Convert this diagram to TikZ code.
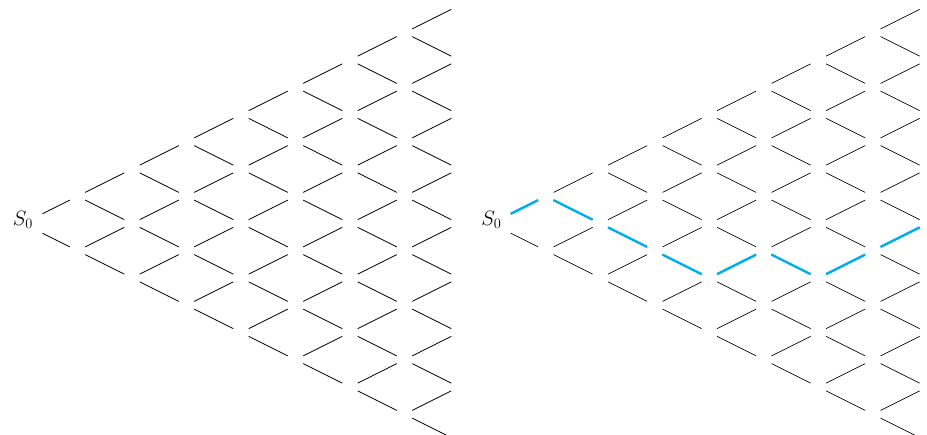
\documentclass[tikz,border=0pt]{standalone}
\definecolor{pathblue}{RGB}{0,174,239}
\usepackage{amsmath,amssymb}
\usepackage{tikz}
\usepackage{xcolor}
\usetikzlibrary{shapes,arrows,positioning,calc}

\tikzset{
    latt/.style={circle, inner sep=0pt, minimum size=16.8pt},
    rootnode/.style={circle, inner sep=0pt, minimum size=43pt,
        text height=14pt, text depth=9.6pt, font=\huge},
    branch/.style={draw=black, line width=0.7pt},
    chosen/.style={draw=pathblue, line width=2.4pt}
}

\begin{document}
\begin{tikzpicture}[x=54.5pt, y=27.25pt]
    \clip (-0.422,-7.761) rectangle (16.587,8.202);
    % lattice points of both trees
    \foreach \t/\s in {l/0, r/8.593} {
        \node[rootnode] (\t-0-0) at (\s,0) {$S_0$};
        \foreach \i in {1,...,8} {
            \foreach \k in {0,...,\i} {
                \node[latt] (\t-\i-\k) at ({\s+\i},{2*\k-\i}) {};
            }
        }
    }
    % up and down moves
    \foreach \t in {l,r} {
        \foreach \i in {0,...,7} {
            \pgfmathtruncatemacro\ni{\i+1}
            \foreach \k in {0,...,\i} {
                \pgfmathtruncatemacro\nk{\k+1}
                \draw[branch] (\t-\i-\k) -- (\t-\ni-\k);
                \draw[branch] (\t-\i-\k) -- (\t-\ni-\nk);
            }
        }
    }
    % one price path
    \foreach \a/\b in {0-0/1-1, 1-1/2-1, 2-1/3-1, 3-1/4-1, 4-1/5-2, 5-2/6-2, 6-2/7-3, 7-3/8-4} {
        \draw[chosen] (r-\a) -- (r-\b);
    }
\end{tikzpicture}
\end{document}
